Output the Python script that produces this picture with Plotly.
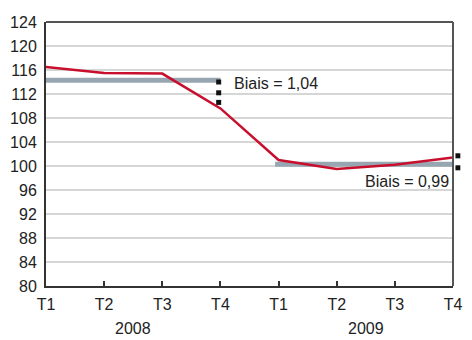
import plotly.graph_objects as go

# Quarterly index, 2008-2009
quarters = ["T1", "T2", "T3", "T4", "T1", "T2", "T3", "T4"]
years = ["2008", "2009"]
index_values = [116.5, 115.5, 115.4, 109.6, 101.0, 99.5, 100.2, 101.4]

# Annual average levels (grey segments) and bias labels
avg_2008 = 114.3
avg_2009 = 100.3
bias_labels = ["Biais = 1,04", "Biais = 0,99"]

y_ticks = list(range(80, 125, 4))
FONT = "Liberation Sans, Arial, Helvetica, sans-serif"
FONT_SIZE = 16
RED = "#c8102e"
GREY = "#97a6b1"

x = list(range(len(quarters)))

fig = go.Figure()

# Grey average segments
fig.add_trace(go.Scatter(x=[0, 3], y=[avg_2008, avg_2008], mode="lines",
                         line=dict(color=GREY, width=5), hoverinfo="skip",
                         showlegend=False))
fig.add_trace(go.Scatter(x=[3.94, 7], y=[avg_2009, avg_2009], mode="lines",
                         line=dict(color=GREY, width=5), hoverinfo="skip",
                         showlegend=False))

# Index line
fig.add_trace(go.Scatter(x=x, y=index_values, mode="lines",
                         line=dict(color=RED, width=2.5), showlegend=False))

# Dotted square markers showing the bias gap in 2008
gap_2008 = [avg_2008 - 0.3, avg_2008 - 2.1, avg_2008 - 3.7]
fig.add_trace(go.Scatter(x=[2.97] * len(gap_2008), y=gap_2008, mode="markers",
                         marker=dict(symbol="square", size=5, color="#111"),
                         showlegend=False, hoverinfo="skip"))

# Bias gap markers for 2009, just right of the frame
gap_2009 = [index_values[7] + 0.3, index_values[7] - 1.7]
for gy in gap_2009:
    fig.add_shape(type="rect", xref="paper", yref="y",
                  x0=1.006, x1=1.018, y0=gy - 0.42, y1=gy + 0.42,
                  fillcolor="#111", line=dict(width=0), layer="above")

fig.add_annotation(x=3.2, y=113.7, text=bias_labels[0], showarrow=False,
                   xanchor="left", yanchor="middle",
                   font=dict(family=FONT, size=FONT_SIZE, color="#222"))
fig.add_annotation(x=6.96, y=97.4, text=bias_labels[1], showarrow=False,
                   xanchor="right", yanchor="middle",
                   font=dict(family=FONT, size=FONT_SIZE, color="#222"))

# Year labels under each group of quarters
for i, yr in enumerate(years):
    fig.add_annotation(x=1.5 + 4 * i, y=0, yref="paper", yshift=-42,
                       text=yr, showarrow=False, yanchor="middle",
                       font=dict(family=FONT, size=FONT_SIZE, color="#222"))

fig.update_xaxes(range=[0, 7], tickmode="array", tickvals=x, ticktext=quarters,
                 showgrid=False, zeroline=False, showline=True,
                 linecolor="#333", linewidth=2, mirror=False,
                 ticks="inside", ticklen=5, tickcolor="#333", tickwidth=1.5,
                 ticklabelstandoff=3,
                 tickfont=dict(family=FONT, size=FONT_SIZE, color="#222"))
fig.update_yaxes(range=[80, 124], tickmode="array", tickvals=y_ticks,
                 showgrid=True, gridcolor="#d6d6d6", gridwidth=1.5,
                 zeroline=False, showline=True, linecolor="#333", linewidth=2,
                 ticks="", ticklabelstandoff=4,
                 tickfont=dict(family=FONT, size=FONT_SIZE, color="#222"))

# Top and right frame
fig.add_shape(type="line", xref="paper", yref="paper", x0=0, x1=1, y0=1, y1=1,
              line=dict(color="#555", width=2))
fig.add_shape(type="line", xref="paper", yref="paper", x0=1, x1=1, y0=0, y1=1,
              line=dict(color="#555", width=2))

fig.update_layout(width=472, height=340,
                  margin=dict(l=46, r=10, t=22, b=54),
                  plot_bgcolor="white", paper_bgcolor="white")

fig.write_html("out.html")
